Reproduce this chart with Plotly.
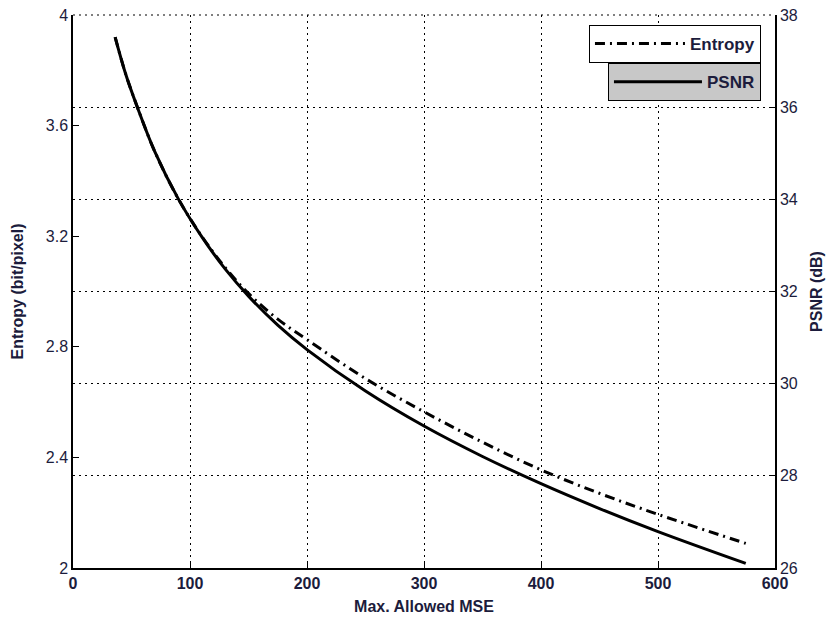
import plotly.graph_objects as go

mse = [36, 45, 55, 70, 90, 110, 130, 150, 175, 200, 250, 300, 350, 400, 450, 500, 575]
entropy = [3.92, 3.787, 3.667, 3.505, 3.335, 3.20, 3.087, 2.993, 2.90, 2.826, 2.685, 2.565, 2.455, 2.355, 2.27, 2.194, 2.089]
psnr = [37.52, 36.72, 36.00, 35.03, 34.01, 33.19, 32.49, 31.90, 31.27, 30.74, 29.84, 29.08, 28.42, 27.83, 27.29, 26.79, 26.10]

x_ticks = [0, 100, 200, 300, 400, 500, 600]
left_ticks = [2, 2.4, 2.8, 3.2, 3.6, 4]
left_labels = ["2", "2.4", "2.8", "3.2", "3.6", "4"]
right_ticks = [26, 28, 30, 32, 34, 36, 38]

FONT = "Liberation Sans, Arial, sans-serif"
TXT = "#1c1c3c"

fig = go.Figure()
fig.add_trace(go.Scatter(
    x=mse, y=entropy, name="Entropy", mode="lines", line_shape="spline",
    line=dict(color="black", width=3, dash="10px,5px,2px,5px"),
    yaxis="y", legend="legend",
))
fig.add_trace(go.Scatter(
    x=mse, y=psnr, name="PSNR", mode="lines", line_shape="spline",
    line=dict(color="black", width=3),
    yaxis="y2", legend="legend2",
))

fig.update_layout(
    width=827, height=614,
    margin=dict(l=65, r=60, t=7, b=54, autoexpand=False),
    paper_bgcolor="white", plot_bgcolor="white",
    font=dict(family=FONT, color=TXT, size=16),
    xaxis=dict(
        range=[0, 600], tickvals=x_ticks, ticks="inside", ticklen=6, tickcolor="black",
        showline=True, linecolor="black", linewidth=1.5, mirror=False, automargin=False,
        showgrid=True, gridcolor="black", griddash="2px,4px", gridwidth=1,
        zeroline=False, ticklabeloverflow="allow",
        tickfont=dict(family=FONT, size=16, color=TXT, weight="bold"),
        title=dict(text="<b>Max. Allowed MSE</b>", font=dict(size=16, color=TXT), standoff=10),
    ),
    yaxis=dict(
        range=[2, 4], tickvals=left_ticks, ticktext=left_labels, ticks="inside", ticklen=6,
        tickcolor="black", showline=True, linecolor="black", linewidth=1.5, automargin=False,
        showgrid=False, zeroline=False, ticklabeloverflow="allow",
        tickfont=dict(family=FONT, size=16, color=TXT),
        title=dict(text="<b>Entropy (bit/pixel)</b>", font=dict(size=16, color=TXT), standoff=18),
    ),
    yaxis2=dict(
        range=[26, 38], tickvals=right_ticks, overlaying="y", side="right", anchor="x",
        ticks="inside", ticklen=6, tickcolor="black", automargin=False,
        showline=True, linecolor="black", linewidth=1.5, ticklabeloverflow="allow",
        showgrid=True, gridcolor="black", griddash="2px,4px", gridwidth=1,
        zeroline=False,
        tickfont=dict(family=FONT, size=16, color=TXT),
        title=dict(text="<b>PSNR (dB)</b>", font=dict(size=16, color=TXT), standoff=14),
    ),
    legend=dict(
        x=0.98, y=0.982, xanchor="right", yanchor="top",
        bgcolor="white", bordercolor="black", borderwidth=1,
        font=dict(family=FONT, size=17, color=TXT, weight="bold"),
        itemwidth=90, tracegroupgap=0,
    ),
    legend2=dict(
        x=0.98, y=0.913, xanchor="right", yanchor="top",
        bgcolor="#c8c8c8", bordercolor="black", borderwidth=1,
        font=dict(family=FONT, size=17, color=TXT, weight="bold"),
        itemwidth=88, tracegroupgap=0,
    ),
    showlegend=True,
)

fig.add_shape(type="line", xref="paper", yref="paper", x0=0, x1=1, y0=1, y1=1,
              line=dict(color="black", width=1, dash="2px,4px"))

fig.write_html("out.html")
